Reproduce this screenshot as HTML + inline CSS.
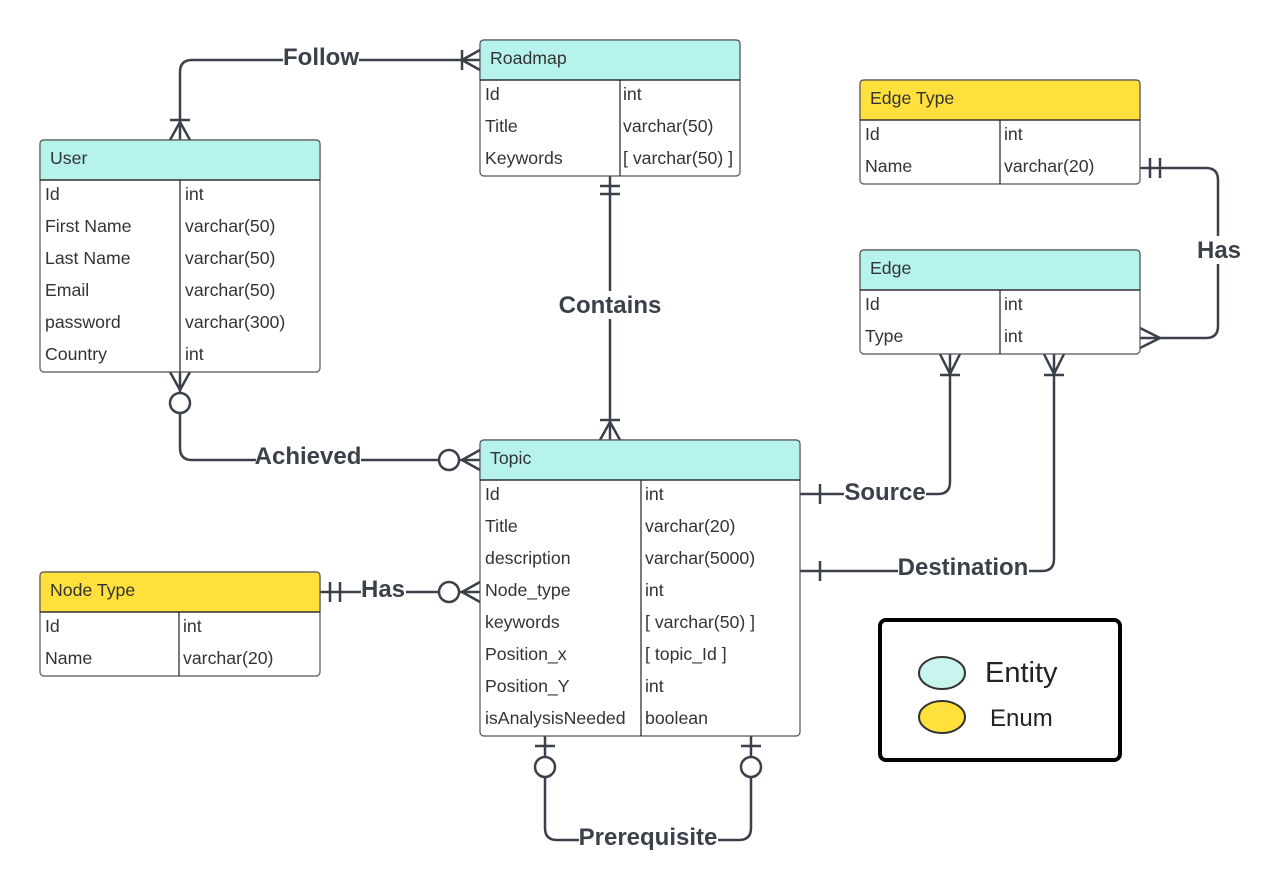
<!DOCTYPE html>
<html><head><meta charset="utf-8"><style>
html,body{margin:0;padding:0;background:#fff;}
svg{display:block;font-family:"Liberation Sans",sans-serif;}
.t{font-size:17.7px;fill:#333;}
.l{font-size:24px;font-weight:bold;fill:#3a414a;}
.c{stroke:#3a414a;stroke-width:2.5;fill:none;}
</style></head><body>
<svg width="1282" height="895" viewBox="0 0 1282 895">
<g class="c">
<path d="M180 140 V72 Q180 60 192 60 H480"/>
<path d="M170 120 H190 M180 122 L170 140 M180 122 L190 140"/>
<path d="M462 50 V70 M462 60 L480 50 M462 60 L480 70"/>
<path d="M610 176 V440"/>
<path d="M600 186 H620 M600 194 H620"/>
<path d="M600 420 H620 M610 422 L600 440 M610 422 L620 440"/>
<path d="M180 372 V393 M180 413 V448 Q180 460 192 460 H439"/>
<circle cx="180" cy="403" r="10" fill="#fff"/>
<path d="M180 390 L170 372 M180 390 L190 372"/>
<circle cx="449" cy="460" r="10" fill="#fff"/>
<path d="M462 460 L480 450 M462 460 L480 470 M459 460 H480"/>
<path d="M320 592 H439 M459 592 H480"/>
<path d="M330 582 V602 M340 582 V602"/>
<circle cx="449" cy="592" r="10" fill="#fff"/>
<path d="M462 592 L480 582 M462 592 L480 602"/>
<path d="M800 494 H938 Q950 494 950 482 V354"/>
<path d="M820 484 V504"/>
<path d="M940 375 H960 M950 374 L940 354 M950 374 L960 354"/>
<path d="M800 571 H1042 Q1054 571 1054 559 V354"/>
<path d="M820 561 V581"/>
<path d="M1044 375 H1064 M1054 374 L1044 354 M1054 374 L1064 354"/>
<path d="M1140 168 H1206 Q1218 168 1218 180 V326 Q1218 338 1206 338 H1140"/>
<path d="M1150 158 V178 M1160 158 V178"/>
<path d="M1160 338 L1140 328 M1160 338 L1140 348"/>
<path d="M545 736 V757 M545 777 V828 Q545 840 557 840 H739 Q751 840 751 828 V777 M751 757 V736"/>
<path d="M535 746 H555 M741 746 H761"/>
<circle cx="545" cy="767" r="10" fill="#fff"/>
<circle cx="751" cy="767" r="10" fill="#fff"/>
</g>
<g class="l" text-anchor="middle">
<rect x="283" y="44" width="76" height="26" fill="#fff"/><text x="321" y="65">Follow</text>
<rect x="558" y="291" width="104" height="28" fill="#fff"/><text x="610" y="313">Contains</text>
<rect x="256" y="443" width="105" height="26" fill="#fff"/><text x="308" y="464">Achieved</text>
<rect x="361" y="577" width="45" height="26" fill="#fff"/><text x="383" y="597">Has</text>
<rect x="844" y="480" width="82" height="26" fill="#fff"/><text x="885" y="500">Source</text>
<rect x="898" y="555" width="131" height="26" fill="#fff"/><text x="963" y="575">Destination</text>
<rect x="1197" y="236" width="44" height="28" fill="#fff"/><text x="1219" y="258">Has</text>
<rect x="579" y="824" width="139" height="28" fill="#fff"/><text x="648" y="845">Prerequisite</text>
</g>
<g stroke="#555" stroke-width="1.2">
<rect x="480" y="40" width="260" height="136" rx="4" fill="#fff"/>
<path d="M480 80 V44 Q480 40 484 40 H736 Q740 40 740 44 V80 Z" fill="#b5f3ec"/>
<path d="M480 80 H740 M620 80 V176" stroke="#222"/>
<rect x="40" y="140" width="280" height="232" rx="4" fill="#fff"/>
<path d="M40 180 V144 Q40 140 44 140 H316 Q320 140 320 144 V180 Z" fill="#b5f3ec"/>
<path d="M40 180 H320 M180 180 V372" stroke="#222"/>
<rect x="860" y="80" width="280" height="104" rx="4" fill="#fff"/>
<path d="M860 120 V84 Q860 80 864 80 H1136 Q1140 80 1140 84 V120 Z" fill="#ffe03d"/>
<path d="M860 120 H1140 M1000 120 V184" stroke="#222"/>
<rect x="860" y="250" width="280" height="104" rx="4" fill="#fff"/>
<path d="M860 290 V254 Q860 250 864 250 H1136 Q1140 250 1140 254 V290 Z" fill="#b5f3ec"/>
<path d="M860 290 H1140 M1000 290 V354" stroke="#222"/>
<rect x="480" y="440" width="320" height="296" rx="4" fill="#fff"/>
<path d="M480 480 V444 Q480 440 484 440 H796 Q800 440 800 444 V480 Z" fill="#b5f3ec"/>
<path d="M480 480 H800 M641 480 V736" stroke="#222"/>
<rect x="40" y="572" width="280" height="104" rx="4" fill="#fff"/>
<path d="M40 612 V576 Q40 572 44 572 H316 Q320 572 320 576 V612 Z" fill="#ffe03d"/>
<path d="M40 612 H320 M179 612 V676" stroke="#222"/>
</g>
<g class="t">
<text x="490" y="64">Roadmap</text>
<text x="485" y="100">Id</text><text x="623" y="100">int</text>
<text x="485" y="132">Title</text><text x="623" y="132">varchar(50)</text>
<text x="485" y="164">Keywords</text><text x="623" y="164">[ varchar(50) ]</text>
<text x="50" y="164">User</text>
<text x="45" y="200">Id</text><text x="185" y="200">int</text>
<text x="45" y="232">First Name</text><text x="185" y="232">varchar(50)</text>
<text x="45" y="264">Last Name</text><text x="185" y="264">varchar(50)</text>
<text x="45" y="296">Email</text><text x="185" y="296">varchar(50)</text>
<text x="45" y="328">password</text><text x="185" y="328">varchar(300)</text>
<text x="45" y="360">Country</text><text x="185" y="360">int</text>
<text x="870" y="104">Edge Type</text>
<text x="865" y="140">Id</text><text x="1004" y="140">int</text>
<text x="865" y="172">Name</text><text x="1004" y="172">varchar(20)</text>
<text x="870" y="274">Edge</text>
<text x="865" y="310">Id</text><text x="1004" y="310">int</text>
<text x="865" y="342">Type</text><text x="1004" y="342">int</text>
<text x="490" y="464">Topic</text>
<text x="485" y="500">Id</text><text x="645" y="500">int</text>
<text x="485" y="532">Title</text><text x="645" y="532">varchar(20)</text>
<text x="485" y="564">description</text><text x="645" y="564">varchar(5000)</text>
<text x="485" y="596">Node_type</text><text x="645" y="596">int</text>
<text x="485" y="628">keywords</text><text x="645" y="628">[ varchar(50) ]</text>
<text x="485" y="660">Position_x</text><text x="645" y="660">[ topic_Id ]</text>
<text x="485" y="692">Position_Y</text><text x="645" y="692">int</text>
<text x="485" y="724">isAnalysisNeeded</text><text x="645" y="724">boolean</text>
<text x="50" y="596">Node Type</text>
<text x="45" y="632">Id</text><text x="183" y="632">int</text>
<text x="45" y="664">Name</text><text x="183" y="664">varchar(20)</text>
</g>
<rect x="880" y="620" width="240" height="140" rx="6" fill="#fff" stroke="#000" stroke-width="4"/>
<ellipse cx="942" cy="673" rx="23" ry="16" fill="#c8f6ef" stroke="#333" stroke-width="2"/>
<ellipse cx="942" cy="717" rx="23" ry="16" fill="#ffe03d" stroke="#333" stroke-width="2"/>
<text x="985" y="682" font-size="29" fill="#222">Entity</text>
<text x="990" y="726" font-size="24" fill="#222">Enum</text>
</svg>
</body></html>
